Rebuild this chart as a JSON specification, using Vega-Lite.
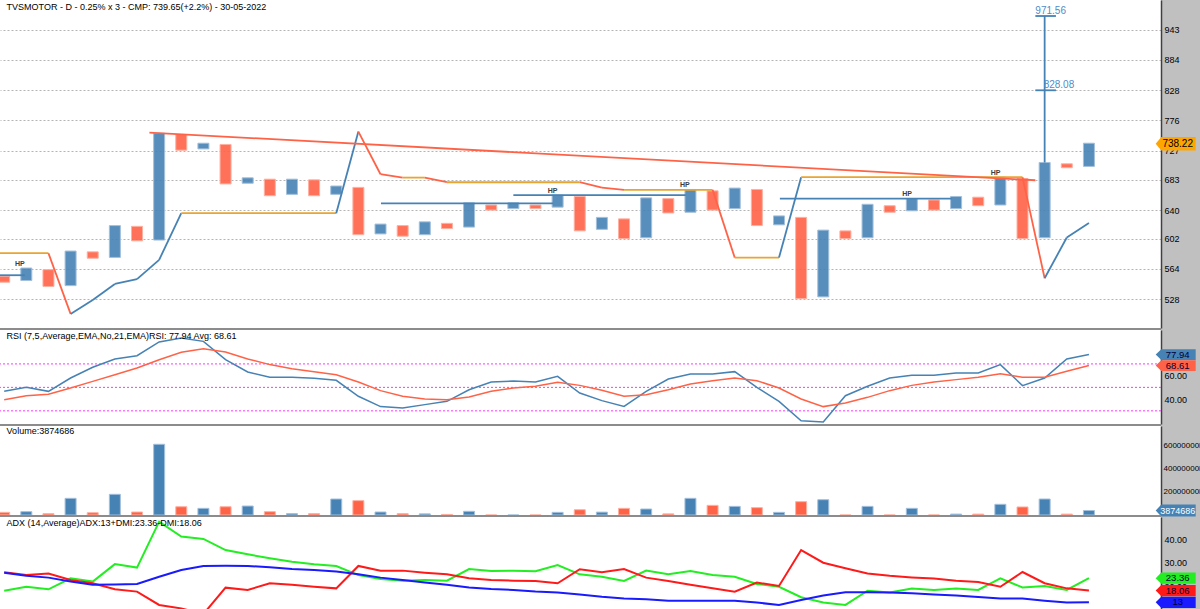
{
  "$schema": "https://vega.github.io/schema/vega-lite/v6.json",
  "width": 1161,
  "height": 609,
  "autosize": {"type": "none"},
  "padding": {"left": 0, "top": 0, "right": 39, "bottom": 0},
  "background": "#c0c0c0",
  "config": {
    "view": {"fill": "white", "stroke": null},
    "font": "Liberation Sans",
    "axis": {"labelFont": "Liberation Sans", "labelFontSize": 9, "labelColor": "#000000", "ticks": false, "labelPadding": 3, "domainColor": "#404040", "domainWidth": 1.5, "title": null}
  },
  "datasets": {
    "cols": [
      {"col": 0, "dir": "O", "lo": 548, "hi": 555, "vol": 2300000, "rsi": 46.6, "avg": 39.5, "adx": 25.7, "pdi": 18.0, "mdi": 25.9},
      {"col": 1, "dir": "X", "lo": 550, "hi": 565, "vol": 2900000, "rsi": 50.0, "avg": 42.9, "adx": 24.4, "pdi": 19.7, "mdi": 24.7},
      {"col": 2, "dir": "O", "lo": 543, "hi": 563, "vol": 1200000, "rsi": 46.6, "avg": 44.1, "adx": 23.6, "pdi": 18.6, "mdi": 25.4},
      {"col": 3, "dir": "X", "lo": 544, "hi": 586, "vol": 14500000, "rsi": 58.0, "avg": 49.5, "adx": 21.9, "pdi": 23.3, "mdi": 22.6},
      {"col": 4, "dir": "O", "lo": 577, "hi": 585, "vol": 2000000, "rsi": 67.1, "avg": 55.1, "adx": 20.5, "pdi": 21.9, "mdi": 21.2},
      {"col": 5, "dir": "X", "lo": 578, "hi": 619, "vol": 18000000, "rsi": 74.2, "avg": 60.8, "adx": 20.7, "pdi": 29.4, "mdi": 18.6},
      {"col": 6, "dir": "O", "lo": 599, "hi": 618, "vol": 2600000, "rsi": 77.0, "avg": 66.5, "adx": 20.9, "pdi": 27.9, "mdi": 17.6},
      {"col": 7, "dir": "X", "lo": 600, "hi": 755, "vol": 61500000, "rsi": 88.7, "avg": 73.6, "adx": 24.0, "pdi": 47.6, "mdi": 11.9},
      {"col": 8, "dir": "O", "lo": 728, "hi": 753, "vol": 7200000, "rsi": 92.1, "avg": 79.9, "adx": 26.9, "pdi": 41.2, "mdi": 10.4},
      {"col": 9, "dir": "X", "lo": 730, "hi": 739, "vol": 5800000, "rsi": 89.2, "avg": 83.0, "adx": 28.6, "pdi": 40.2, "mdi": 8.0},
      {"col": 10, "dir": "O", "lo": 677, "hi": 737, "vol": 7200000, "rsi": 73.6, "avg": 80.1, "adx": 28.7, "pdi": 35.4, "mdi": 19.3},
      {"col": 11, "dir": "X", "lo": 678, "hi": 686, "vol": 7800000, "rsi": 63.1, "avg": 74.2, "adx": 28.6, "pdi": 33.6, "mdi": 18.3},
      {"col": 12, "dir": "O", "lo": 660, "hi": 684, "vol": 2900000, "rsi": 58.6, "avg": 69.4, "adx": 28.0, "pdi": 31.9, "mdi": 21.2},
      {"col": 13, "dir": "X", "lo": 662, "hi": 684, "vol": 1200000, "rsi": 58.6, "avg": 65.9, "adx": 27.3, "pdi": 30.4, "mdi": 20.5},
      {"col": 14, "dir": "O", "lo": 660, "hi": 683, "vol": 1200000, "rsi": 57.7, "avg": 63.4, "adx": 26.9, "pdi": 29.3, "mdi": 19.7},
      {"col": 15, "dir": "X", "lo": 662, "hi": 674, "vol": 13900000, "rsi": 56.0, "avg": 60.8, "adx": 26.2, "pdi": 28.6, "mdi": 19.0},
      {"col": 16, "dir": "O", "lo": 607, "hi": 672, "vol": 12500000, "rsi": 42.4, "avg": 54.6, "adx": 25.0, "pdi": 24.7, "mdi": 28.6},
      {"col": 17, "dir": "X", "lo": 608, "hi": 621, "vol": 2600000, "rsi": 33.6, "avg": 47.2, "adx": 23.6, "pdi": 23.0, "mdi": 26.6},
      {"col": 18, "dir": "O", "lo": 605, "hi": 619, "vol": 1200000, "rsi": 32.4, "avg": 42.4, "adx": 22.6, "pdi": 22.3, "mdi": 26.6},
      {"col": 19, "dir": "X", "lo": 607, "hi": 624, "vol": 1000000, "rsi": 35.3, "avg": 40.1, "adx": 21.5, "pdi": 22.6, "mdi": 25.7},
      {"col": 20, "dir": "O", "lo": 615, "hi": 622, "vol": 500000, "rsi": 38.1, "avg": 39.5, "adx": 20.5, "pdi": 22.3, "mdi": 25.0},
      {"col": 21, "dir": "X", "lo": 617, "hi": 650, "vol": 3200000, "rsi": 48.0, "avg": 41.8, "adx": 19.4, "pdi": 27.3, "mdi": 23.3},
      {"col": 22, "dir": "O", "lo": 640, "hi": 647, "vol": 0, "rsi": 54.6, "avg": 46.6, "adx": 18.7, "pdi": 26.4, "mdi": 22.6},
      {"col": 23, "dir": "X", "lo": 642, "hi": 650, "vol": 0, "rsi": 55.4, "avg": 49.5, "adx": 18.3, "pdi": 26.6, "mdi": 22.3},
      {"col": 24, "dir": "O", "lo": 642, "hi": 647, "vol": 0, "rsi": 54.6, "avg": 50.9, "adx": 17.6, "pdi": 26.3, "mdi": 22.2},
      {"col": 25, "dir": "X", "lo": 644, "hi": 661, "vol": 2300000, "rsi": 59.4, "avg": 54.3, "adx": 17.2, "pdi": 29.0, "mdi": 21.2},
      {"col": 26, "dir": "O", "lo": 612, "hi": 659, "vol": 4600000, "rsi": 45.2, "avg": 51.7, "adx": 16.4, "pdi": 25.0, "mdi": 27.2},
      {"col": 27, "dir": "X", "lo": 614, "hi": 630, "vol": 2500000, "rsi": 38.7, "avg": 47.5, "adx": 15.4, "pdi": 24.0, "mdi": 25.9},
      {"col": 28, "dir": "O", "lo": 602, "hi": 628, "vol": 5800000, "rsi": 33.8, "avg": 42.4, "adx": 14.7, "pdi": 22.2, "mdi": 27.3},
      {"col": 29, "dir": "X", "lo": 603, "hi": 657, "vol": 5200000, "rsi": 46.6, "avg": 43.8, "adx": 14.3, "pdi": 26.6, "mdi": 23.6},
      {"col": 30, "dir": "O", "lo": 636, "hi": 656, "vol": 1000000, "rsi": 57.1, "avg": 48.0, "adx": 13.7, "pdi": 25.0, "mdi": 22.2},
      {"col": 31, "dir": "X", "lo": 637, "hi": 669, "vol": 14500000, "rsi": 61.4, "avg": 52.9, "adx": 13.7, "pdi": 26.4, "mdi": 20.5},
      {"col": 32, "dir": "O", "lo": 640, "hi": 667, "vol": 8400000, "rsi": 61.4, "avg": 55.7, "adx": 13.7, "pdi": 24.7, "mdi": 19.0},
      {"col": 33, "dir": "X", "lo": 642, "hi": 671, "vol": 7500000, "rsi": 63.4, "avg": 58.0, "adx": 13.7, "pdi": 24.0, "mdi": 17.6},
      {"col": 34, "dir": "O", "lo": 619, "hi": 669, "vol": 6400000, "rsi": 50.0, "avg": 55.7, "adx": 12.9, "pdi": 20.9, "mdi": 21.5},
      {"col": 35, "dir": "X", "lo": 620, "hi": 632, "vol": 2300000, "rsi": 38.1, "avg": 49.5, "adx": 11.9, "pdi": 19.7, "mdi": 20.0},
      {"col": 36, "dir": "O", "lo": 529, "hi": 630, "vol": 11600000, "rsi": 21.6, "avg": 40.1, "adx": 14.0, "pdi": 15.2, "mdi": 35.4},
      {"col": 37, "dir": "X", "lo": 531, "hi": 613, "vol": 13300000, "rsi": 20.5, "avg": 33.6, "adx": 15.9, "pdi": 12.9, "mdi": 30.0},
      {"col": 38, "dir": "O", "lo": 602, "hi": 612, "vol": 0, "rsi": 42.9, "avg": 36.7, "adx": 17.3, "pdi": 11.9, "mdi": 27.6},
      {"col": 39, "dir": "X", "lo": 603, "hi": 648, "vol": 7500000, "rsi": 50.9, "avg": 41.5, "adx": 17.3, "pdi": 18.0, "mdi": 25.4},
      {"col": 40, "dir": "O", "lo": 637, "hi": 646, "vol": 0, "rsi": 58.0, "avg": 47.2, "adx": 17.2, "pdi": 17.2, "mdi": 24.4},
      {"col": 41, "dir": "X", "lo": 639, "hi": 656, "vol": 5800000, "rsi": 60.3, "avg": 51.7, "adx": 16.9, "pdi": 18.9, "mdi": 23.7},
      {"col": 42, "dir": "O", "lo": 640, "hi": 654, "vol": 0, "rsi": 60.3, "avg": 54.6, "adx": 16.4, "pdi": 18.3, "mdi": 23.2},
      {"col": 43, "dir": "X", "lo": 642, "hi": 659, "vol": 800000, "rsi": 62.2, "avg": 56.6, "adx": 15.9, "pdi": 18.9, "mdi": 22.3},
      {"col": 44, "dir": "O", "lo": 646, "hi": 658, "vol": 800000, "rsi": 62.2, "avg": 58.6, "adx": 15.3, "pdi": 18.3, "mdi": 21.7},
      {"col": 45, "dir": "X", "lo": 647, "hi": 687, "vol": 9300000, "rsi": 69.4, "avg": 61.7, "adx": 14.6, "pdi": 23.3, "mdi": 19.7},
      {"col": 46, "dir": "O", "lo": 602, "hi": 685, "vol": 7000000, "rsi": 51.5, "avg": 58.6, "adx": 14.6, "pdi": 19.4, "mdi": 26.0},
      {"col": 47, "dir": "X", "lo": 603, "hi": 709, "vol": 13900000, "rsi": 58.0, "avg": 58.6, "adx": 13.7, "pdi": 20.0, "mdi": 21.2},
      {"col": 48, "dir": "O", "lo": 701, "hi": 707, "vol": 800000, "rsi": 74.2, "avg": 63.7, "adx": 12.9, "pdi": 18.3, "mdi": 19.0},
      {"col": 49, "dir": "X", "lo": 703, "hi": 739, "vol": 3874686, "rsi": 77.94, "avg": 68.61, "adx": 13, "pdi": 23.36, "mdi": 18.06}
    ],
    "segs": [
      {"c1": -0.5, "p1": 583.3, "c2": 2, "p2": 583.3, "k": "flat"},
      {"c1": 2, "p1": 583.3, "c2": 3, "p2": 511.9, "k": "down"},
      {"c1": 3, "p1": 511.9, "c2": 4, "p2": 527.5, "k": "up"},
      {"c1": 4, "p1": 527.5, "c2": 5, "p2": 546.0, "k": "up"},
      {"c1": 5, "p1": 546.0, "c2": 6, "p2": 551.6, "k": "up"},
      {"c1": 6, "p1": 551.6, "c2": 7, "p2": 575.0, "k": "up"},
      {"c1": 7, "p1": 575.0, "c2": 8, "p2": 635.7, "k": "up"},
      {"c1": 8, "p1": 635.7, "c2": 15, "p2": 635.7, "k": "flat"},
      {"c1": 15, "p1": 635.7, "c2": 16, "p2": 757.7, "k": "up"},
      {"c1": 16, "p1": 757.7, "c2": 17, "p2": 691.3, "k": "down"},
      {"c1": 17, "p1": 691.3, "c2": 18, "p2": 686.3, "k": "down"},
      {"c1": 18, "p1": 686.3, "c2": 19, "p2": 686.3, "k": "flat"},
      {"c1": 19, "p1": 686.3, "c2": 20, "p2": 679.5, "k": "down"},
      {"c1": 20, "p1": 679.5, "c2": 26, "p2": 679.5, "k": "flat"},
      {"c1": 26, "p1": 679.5, "c2": 27, "p2": 671.7, "k": "down"},
      {"c1": 27, "p1": 671.7, "c2": 28, "p2": 668.4, "k": "down"},
      {"c1": 28, "p1": 668.4, "c2": 32, "p2": 668.4, "k": "flat"},
      {"c1": 32, "p1": 668.4, "c2": 33, "p2": 577.8, "k": "down"},
      {"c1": 33, "p1": 577.8, "c2": 35, "p2": 577.8, "k": "flat"},
      {"c1": 35, "p1": 577.8, "c2": 36, "p2": 686.9, "k": "up"},
      {"c1": 36, "p1": 686.9, "c2": 46, "p2": 686.9, "k": "flat"},
      {"c1": 46, "p1": 686.9, "c2": 47, "p2": 552.7, "k": "down"},
      {"c1": 47, "p1": 552.7, "c2": 48, "p2": 603.3, "k": "up"},
      {"c1": 48, "p1": 603.3, "c2": 49, "p2": 622.3, "k": "up"},
      {"c1": 6.56, "p1": 756.1, "c2": 46.58, "p2": 682.4, "k": "trend"},
      {"c1": -0.5, "p1": 556.3, "c2": 0.93, "p2": 556.3, "k": "hp"},
      {"c1": 17.02, "p1": 649.3, "c2": 24.8, "p2": 649.3, "k": "hp"},
      {"c1": 23.0, "p1": 660.8, "c2": 30.79, "p2": 660.8, "k": "hp"},
      {"c1": 35.04, "p1": 655.9, "c2": 42.8, "p2": 655.9, "k": "hp"},
      {"c1": 47, "p1": 709, "c2": 47, "p2": 971.56, "k": "tgt"},
      {"c1": 46.58, "p1": 971.56, "c2": 47.51, "p2": 971.56, "k": "tgt"},
      {"c1": 46.58, "p1": 828.08, "c2": 47.51, "p2": 828.08, "k": "tgt"}
    ],
    "hps": [
      {"col": 0.71, "p": 570.1},
      {"col": 24.77, "p": 667.0},
      {"col": 30.75, "p": 675.3},
      {"col": 40.79, "p": 662.8},
      {"col": 44.78, "p": 692.9}
    ],
    "tlabels": [
      {"col": 47, "p": 971.56, "t": "971.56"},
      {"col": 47, "p": 828.08, "t": "828.08"}
    ],
    "lvls": [{"lvl": 70}, {"lvl": 50}, {"lvl": 30}],
    "tags": [
      {"s": "price", "v": 738.22, "t": "738.22"},
      {"s": "rsi", "v": 77.94, "t": "77.94"},
      {"s": "avg", "v": 68.61, "t": "68.61"},
      {"s": "vol", "v": 3874686, "t": "3874686"},
      {"s": "pdi", "v": 23.36, "t": "23.36"},
      {"s": "mdi", "v": 18.06, "t": "18.06"},
      {"s": "adx", "v": 13, "t": "13"}
    ],
    "titles": [
      {"p": "price", "t": "TVSMOTOR - D - 0.25% x 3 - CMP: 739.65(+2.2%) - 30-05-2022"},
      {"p": "rsi", "t": "RSI (7,5,Average,EMA,No,21,EMA)RSI: 77.94 Avg: 68.61"},
      {"p": "vol", "t": "Volume:3874686"},
      {"p": "adx", "t": "ADX (14,Average)ADX:13+DMI:23.36-DMI:18.06"}
    ]
  },
  "layer": [
    {
      "layer": [
        {
          "data": {"name": "cols"},
          "transform": [{"filter": "datum.dir === 'X'"}],
          "mark": {"type": "bar", "width": 11, "fill": "#4682B4", "fillOpacity": 0.9, "stroke": "#a3c0dc", "strokeWidth": 1},
          "encoding": {
            "x": {"field": "col", "type": "quantitative", "scale": {"domain": [0.037, 52.03], "nice": false, "zero": false}, "axis": null},
            "y": {"field": "lo", "type": "quantitative", "title": null, "scale": {"type": "log", "domain": [496.6, 1005.6], "range": [328, 0], "nice": false, "zero": false},
              "axis": {"orient": "right", "values": [528, 564, 602, 640, 683, 727, 776, 828, 884, 943], "format": ".0f", "grid": true, "gridColor": "#b4b4b4", "gridDash": [2, 2], "gridWidth": 1, "title": null}},
            "y2": {"field": "hi"}
          }
        },
        {
          "data": {"name": "cols"},
          "transform": [{"filter": "datum.dir === 'O'"}],
          "mark": {"type": "bar", "width": 11, "fill": "#FF6347", "fillOpacity": 0.9, "stroke": "#ffb0a0", "strokeWidth": 1},
          "encoding": {
            "x": {"field": "col", "type": "quantitative", "axis": null},
            "y": {"field": "lo", "type": "quantitative", "title": null},
            "y2": {"field": "hi"}
          }
        },
        {
          "data": {"name": "segs"},
          "mark": {"type": "rule", "strokeWidth": 1.8},
          "encoding": {
            "x": {"field": "c1", "type": "quantitative", "axis": null},
            "x2": {"field": "c2"},
            "y": {"field": "p1", "type": "quantitative", "title": null},
            "y2": {"field": "p2"},
            "stroke": {"field": "k", "type": "nominal", "legend": null,
              "scale": {"domain": ["up", "down", "flat", "trend", "hp", "tgt"], "range": ["#4682B4", "#FF6347", "#E8A530", "#FF6347", "#4682B4", "#4682B4"]}}
          }
        },
        {
          "data": {"name": "hps"},
          "mark": {"type": "text", "text": "HP", "fontSize": 7, "fontWeight": "bold", "color": "#404040", "align": "center", "baseline": "middle"},
          "encoding": {
            "x": {"field": "col", "type": "quantitative", "axis": null},
            "y": {"field": "p", "type": "quantitative", "title": null}
          }
        },
        {
          "data": {"name": "tlabels"},
          "transform": [{"filter": "datum.t === '971.56'"}],
          "mark": {"type": "text", "fontSize": 10, "color": "#4f8cc9", "align": "center", "baseline": "bottom", "dx": 6, "dy": 0},
          "encoding": {
            "x": {"field": "col", "type": "quantitative", "axis": null},
            "y": {"field": "p", "type": "quantitative", "title": null},
            "text": {"field": "t"}
          }
        },
        {
          "data": {"name": "tlabels"},
          "transform": [{"filter": "datum.t === '828.08'"}],
          "mark": {"type": "text", "fontSize": 10, "color": "#4f8cc9", "align": "left", "baseline": "bottom", "dx": -1, "dy": 0},
          "encoding": {
            "x": {"field": "col", "type": "quantitative", "axis": null},
            "y": {"field": "p", "type": "quantitative", "title": null},
            "text": {"field": "t"}
          }
        },
        {
          "data": {"name": "tags"},
          "transform": [{"filter": "datum.s === 'price'"}],
          "mark": {"type": "point", "shape": "M-1,0L-0.72,-0.34L1,-0.34L1,0.34L-0.72,0.34Z", "size": 1600, "filled": true, "opacity": 1},
          "encoding": {
            "x": {"datum": 52.92, "type": "quantitative", "axis": null},
            "y": {"field": "v", "type": "quantitative", "title": null},
            "fill": {"field": "s", "type": "nominal", "legend": null,
              "scale": {"domain": ["price", "rsi", "avg", "vol", "pdi", "mdi", "adx"], "range": ["#FFA500", "#4682B4", "#FF6347", "#4682B4", "#22EE22", "#FF1A1A", "#1A1AFF"]}}
          }
        },
        {
          "data": {"name": "tags"},
          "transform": [{"filter": "datum.s === 'price'"}],
          "mark": {"type": "text", "fontSize": 10, "color": "#000000", "align": "center", "baseline": "middle", "dx": 2},
          "encoding": {
            "x": {"datum": 52.92, "type": "quantitative", "axis": null},
            "y": {"field": "v", "type": "quantitative", "title": null},
            "text": {"field": "t"}
          }
        },
        {
          "data": {"name": "titles"},
          "transform": [{"filter": "datum.p === 'price'"}],
          "mark": {"type": "text", "fontSize": 9, "color": "#000000", "align": "left", "baseline": "middle", "dy": 7},
          "encoding": {
            "x": {"datum": 0.11, "type": "quantitative", "axis": null},
            "y": {"datum": 1005.6, "type": "quantitative", "title": null},
            "text": {"field": "t"}
          }
        }
      ]
    },
    {
      "layer": [
        {
          "data": {"name": "lvls"},
          "mark": {"type": "rule", "color": "#ff33ff", "strokeWidth": 1, "strokeDash": [2, 2]},
          "encoding": {
            "y": {"field": "lvl", "type": "quantitative", "title": null, "scale": {"domain": [18.78, 98.9], "range": [424, 330], "nice": false, "zero": false},
              "axis": {"orient": "right", "values": [40, 60, 80], "format": ".2f", "grid": false, "title": null}}
          }
        },
        {
          "data": {"name": "cols"},
          "mark": {"type": "line", "color": "#4682B4", "strokeWidth": 1.5},
          "encoding": {
            "x": {"field": "col", "type": "quantitative", "axis": null},
            "y": {"field": "rsi", "type": "quantitative", "title": null}
          }
        },
        {
          "data": {"name": "cols"},
          "mark": {"type": "line", "color": "#FF6347", "strokeWidth": 1.5},
          "encoding": {
            "x": {"field": "col", "type": "quantitative", "axis": null},
            "y": {"field": "avg", "type": "quantitative", "title": null}
          }
        },
        {
          "data": {"name": "tags"},
          "transform": [{"filter": "datum.s === 'rsi' || datum.s === 'avg'"}],
          "mark": {"type": "point", "shape": "M-1,0L-0.72,-0.27L1,-0.27L1,0.27L-0.72,0.27Z", "size": 1600, "filled": true, "opacity": 1},
          "encoding": {
            "x": {"datum": 52.92, "type": "quantitative", "axis": null},
            "y": {"field": "v", "type": "quantitative", "title": null},
            "fill": {"field": "s", "type": "nominal", "legend": null,
              "scale": {"domain": ["price", "rsi", "avg", "vol", "pdi", "mdi", "adx"], "range": ["#FFA500", "#4682B4", "#FF6347", "#4682B4", "#22EE22", "#FF1A1A", "#1A1AFF"]}}
          }
        },
        {
          "data": {"name": "tags"},
          "transform": [{"filter": "datum.s === 'rsi' || datum.s === 'avg'"}],
          "mark": {"type": "text", "fontSize": 9.5, "color": "#000033", "align": "center", "baseline": "middle", "dx": 2},
          "encoding": {
            "x": {"datum": 52.92, "type": "quantitative", "axis": null},
            "y": {"field": "v", "type": "quantitative", "title": null},
            "text": {"field": "t"}
          }
        },
        {
          "data": {"name": "titles"},
          "transform": [{"filter": "datum.p === 'rsi'"}],
          "mark": {"type": "rule", "color": "#8c8c8c", "strokeWidth": 2},
          "encoding": {
            "y": {"datum": 99.75, "type": "quantitative", "title": null}
          }
        },
        {
          "data": {"name": "titles"},
          "transform": [{"filter": "datum.p === 'rsi'"}],
          "mark": {"type": "text", "fontSize": 9, "color": "#000000", "align": "left", "baseline": "middle", "dy": 7},
          "encoding": {
            "x": {"datum": 0.11, "type": "quantitative", "axis": null},
            "y": {"datum": 99.75, "type": "quantitative", "title": null},
            "text": {"field": "t"}
          }
        }
      ]
    },
    {
      "layer": [
        {
          "data": {"name": "cols"},
          "transform": [{"filter": "datum.dir === 'X'"}],
          "mark": {"type": "bar", "width": 11, "fill": "#4682B4", "stroke": "#a3c0dc", "strokeWidth": 1},
          "encoding": {
            "x": {"field": "col", "type": "quantitative", "axis": null},
            "y": {"field": "vol", "type": "quantitative", "title": null, "scale": {"domain": [0, 77390000], "range": [515, 426], "nice": false, "zero": true},
              "axis": {"orient": "right", "values": [20000000, 40000000, 60000000], "labelExpr": "format(datum.value, 'd') + 'K'", "labelFontSize": 8, "labelPadding": 2, "grid": false, "title": null}}
          }
        },
        {
          "data": {"name": "cols"},
          "transform": [{"filter": "datum.dir === 'O'"}],
          "mark": {"type": "bar", "width": 11, "fill": "#FF6347", "stroke": "#ffb0a0", "strokeWidth": 1},
          "encoding": {
            "x": {"field": "col", "type": "quantitative", "axis": null},
            "y": {"field": "vol", "type": "quantitative", "title": null}
          }
        },
        {
          "data": {"name": "tags"},
          "transform": [{"filter": "datum.s === 'vol'"}],
          "mark": {"type": "point", "shape": "M-1,0L-0.72,-0.3L1,-0.3L1,0.3L-0.72,0.3Z", "size": 1600, "filled": true, "opacity": 1},
          "encoding": {
            "x": {"datum": 52.92, "type": "quantitative", "axis": null},
            "y": {"field": "v", "type": "quantitative", "title": null},
            "fill": {"field": "s", "type": "nominal", "legend": null,
              "scale": {"domain": ["price", "rsi", "avg", "vol", "pdi", "mdi", "adx"], "range": ["#FFA500", "#4682B4", "#FF6347", "#4682B4", "#22EE22", "#FF1A1A", "#1A1AFF"]}}
          }
        },
        {
          "data": {"name": "tags"},
          "transform": [{"filter": "datum.s === 'vol'"}],
          "mark": {"type": "text", "fontSize": 9, "color": "#ffffff", "align": "center", "baseline": "middle", "dx": 2},
          "encoding": {
            "x": {"datum": 52.92, "type": "quantitative", "axis": null},
            "y": {"field": "v", "type": "quantitative", "title": null},
            "text": {"field": "t"}
          }
        },
        {
          "data": {"name": "titles"},
          "transform": [{"filter": "datum.p === 'vol'"}],
          "mark": {"type": "rule", "color": "#8c8c8c", "strokeWidth": 2},
          "encoding": {
            "y": {"datum": 78260000, "type": "quantitative", "title": null}
          }
        },
        {
          "data": {"name": "titles"},
          "transform": [{"filter": "datum.p === 'vol'"}],
          "mark": {"type": "text", "fontSize": 9, "color": "#000000", "align": "left", "baseline": "middle", "dy": 4.5},
          "encoding": {
            "x": {"datum": 0.11, "type": "quantitative", "axis": null},
            "y": {"datum": 77390000, "type": "quantitative", "title": null},
            "text": {"field": "t"}
          }
        }
      ]
    },
    {
      "layer": [
        {
          "data": {"name": "cols"},
          "mark": {"type": "line", "color": "#22EE22", "strokeWidth": 2},
          "encoding": {
            "x": {"field": "col", "type": "quantitative", "axis": null},
            "y": {"field": "pdi", "type": "quantitative", "title": null, "scale": {"domain": [10.15, 49.59], "range": [609, 517], "nice": false, "zero": false},
              "axis": {"orient": "right", "values": [20, 30, 40], "format": ".2f", "grid": false, "title": null}}
          }
        },
        {
          "data": {"name": "cols"},
          "mark": {"type": "line", "color": "#FF1A1A", "strokeWidth": 2},
          "encoding": {
            "x": {"field": "col", "type": "quantitative", "axis": null},
            "y": {"field": "mdi", "type": "quantitative", "title": null}
          }
        },
        {
          "data": {"name": "cols"},
          "mark": {"type": "line", "color": "#1A1AFF", "strokeWidth": 2},
          "encoding": {
            "x": {"field": "col", "type": "quantitative", "axis": null},
            "y": {"field": "adx", "type": "quantitative", "title": null}
          }
        },
        {
          "data": {"name": "tags"},
          "transform": [{"filter": "datum.s === 'pdi' || datum.s === 'mdi' || datum.s === 'adx'"}],
          "mark": {"type": "point", "shape": "M-1,0L-0.72,-0.28L1,-0.28L1,0.28L-0.72,0.28Z", "size": 1600, "filled": true, "opacity": 1},
          "encoding": {
            "x": {"datum": 52.92, "type": "quantitative", "axis": null},
            "y": {"field": "v", "type": "quantitative", "title": null},
            "fill": {"field": "s", "type": "nominal", "legend": null,
              "scale": {"domain": ["price", "rsi", "avg", "vol", "pdi", "mdi", "adx"], "range": ["#FFA500", "#4682B4", "#FF6347", "#4682B4", "#22EE22", "#FF1A1A", "#1A1AFF"]}}
          }
        },
        {
          "data": {"name": "tags"},
          "transform": [{"filter": "datum.s === 'pdi' || datum.s === 'mdi' || datum.s === 'adx'"}],
          "mark": {"type": "text", "fontSize": 9.5, "color": "#000033", "align": "center", "baseline": "middle", "dx": 2},
          "encoding": {
            "x": {"datum": 52.92, "type": "quantitative", "axis": null},
            "y": {"field": "v", "type": "quantitative", "title": null},
            "text": {"field": "t"}
          }
        },
        {
          "data": {"name": "titles"},
          "transform": [{"filter": "datum.p === 'adx'"}],
          "mark": {"type": "rule", "color": "#8c8c8c", "strokeWidth": 2},
          "encoding": {
            "y": {"datum": 50.02, "type": "quantitative", "title": null}
          }
        },
        {
          "data": {"name": "titles"},
          "transform": [{"filter": "datum.p === 'adx'"}],
          "mark": {"type": "text", "fontSize": 9, "color": "#000000", "align": "left", "baseline": "middle", "dy": 6},
          "encoding": {
            "x": {"datum": 0.11, "type": "quantitative", "axis": null},
            "y": {"datum": 49.59, "type": "quantitative", "title": null},
            "text": {"field": "t"}
          }
        }
      ]
    }
  ],
  "resolve": {"scale": {"y": "independent"}, "axis": {"y": "independent"}}
}
